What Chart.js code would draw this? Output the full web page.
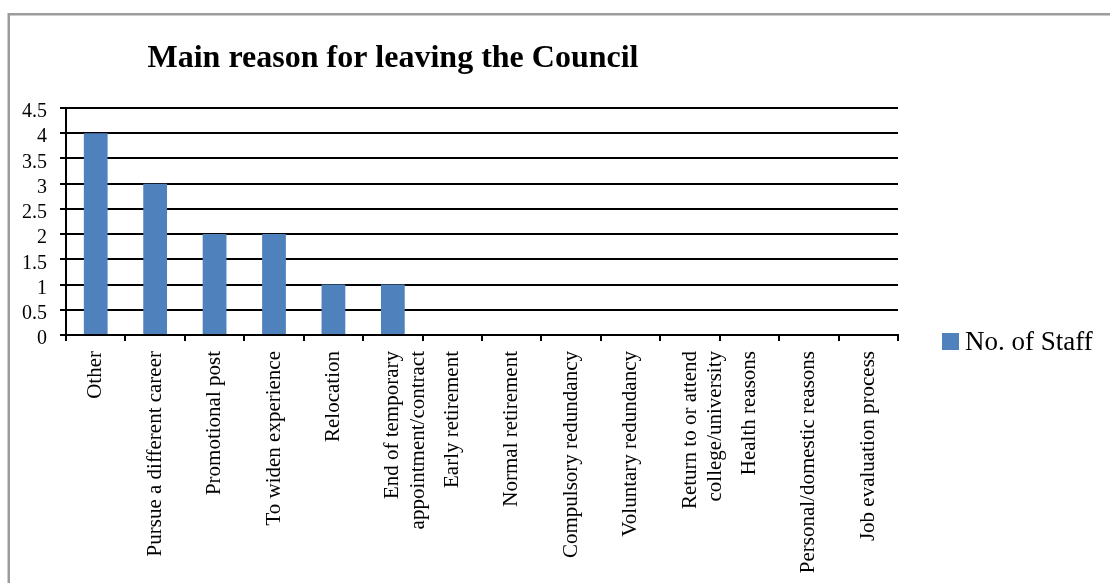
<!DOCTYPE html>
<html>
<head>
<meta charset="utf-8">
<title>Main reason for leaving the Council</title>
<script src="https://cdn.jsdelivr.net/npm/chart.js@4/dist/chart.umd.min.js"></script>
<style>
  html, body { margin: 0; padding: 0; background: #ffffff; }
  #wrap { width: 1110px; height: 583px; position: relative; overflow: hidden; }
</style>
</head>
<body>
<div id="wrap"><canvas id="chart" width="1110" height="583"></canvas></div>
<script>
// Reasons given by leavers, in the order shown on the axis
const categories = [
  'Other',
  'Pursue a different career',
  'Promotional post',
  'To widen experience',
  'Relocation',
  ['End of temporary', 'appointment/contract'],
  'Early retirement',
  'Normal retirement',
  'Compulsory redundancy',
  'Voluntary redundancy',
  ['Return to or attend', 'college/university'],
  'Health reasons',
  'Personal/domestic reasons',
  'Job evaluation process'
];

// Number of staff citing each reason
const staffCounts = [4, 3, 2, 2, 1, 1, 0, 0, 0, 0, 0, 0, 0, 0];

// Value axis: range and step between labelled gridlines
const yMin = 0;
const yMax = 4.5;
const yStep = 0.5;

const seriesName = 'No. of Staff';
const chartTitle = 'Main reason for leaving the Council';

const SERIF = '"Liberation Serif", "Times New Roman", Times, serif';
const BAR_COLOR = '#4f81bd';

// Frame, title and legend drawn straight onto the canvas
const decorations = {
  id: 'decorations',
  beforeDraw(chart) {
    const ctx = chart.ctx;
    ctx.save();
    ctx.fillStyle = '#ffffff';
    ctx.fillRect(0, 0, chart.width, chart.height);
    ctx.fillStyle = '#9c9c9c';
    ctx.fillRect(8, 13, chart.width - 8, 2.5);
    ctx.fillRect(7.5, 13, 2.5, chart.height - 13);
    ctx.restore();
  },
  afterDraw(chart) {
    const ctx = chart.ctx;
    ctx.save();
    // title
    ctx.fillStyle = '#000000';
    ctx.font = 'bold 32px ' + SERIF;
    ctx.textAlign = 'center';
    ctx.textBaseline = 'alphabetic';
    ctx.fillText(chartTitle, 393, 67);
    // legend
    const ds = chart.data.datasets[0];
    ctx.fillStyle = ds.backgroundColor;
    ctx.fillRect(942, 333, 17, 17);
    ctx.fillStyle = '#000000';
    ctx.font = '27px ' + SERIF;
    ctx.textAlign = 'left';
    ctx.fillText(ds.label, 965, 350);
    ctx.restore();
  }
};

new Chart(document.getElementById('chart'), {
  type: 'bar',
  data: {
    labels: categories,
    datasets: [{
      label: seriesName,
      data: staffCounts,
      backgroundColor: BAR_COLOR,
      borderWidth: 0,
      barPercentage: 0.4,
      categoryPercentage: 1.0
    }]
  },
  options: {
    responsive: false,
    animation: false,
    layout: { padding: { top: 108, right: 212, left: 0, bottom: 0 } },
    plugins: {
      legend: { display: false },
      title: { display: false },
      tooltip: { enabled: false }
    },
    scales: {
      x: {
        afterFit(scale) { scale.height = 583 - 335; },
        grid: {
          drawOnChartArea: false,
          drawTicks: true,
          tickLength: 6,
          color: '#000000',
          lineWidth: 2
        },
        border: { display: true, color: '#000000', width: 2 },
        ticks: {
          autoSkip: false,
          minRotation: 90,
          maxRotation: 90,
          padding: 10,
          color: '#000000',
          font: { family: SERIF, size: 21 }
        }
      },
      y: {
        min: yMin,
        max: yMax,
        afterFit(scale) { scale.width = 66; },
        grid: {
          drawTicks: true,
          tickLength: 6,
          color: '#000000',
          lineWidth: 2
        },
        border: { display: true, color: '#000000', width: 2 },
        ticks: {
          stepSize: yStep,
          autoSkip: false,
          padding: 13,
          labelOffset: 4,
          color: '#000000',
          font: { family: SERIF, size: 20 },
          callback: (value) => String(Math.round(value * 10) / 10)
        }
      }
    }
  },
  plugins: [decorations]
});
</script>
</body>
</html>
